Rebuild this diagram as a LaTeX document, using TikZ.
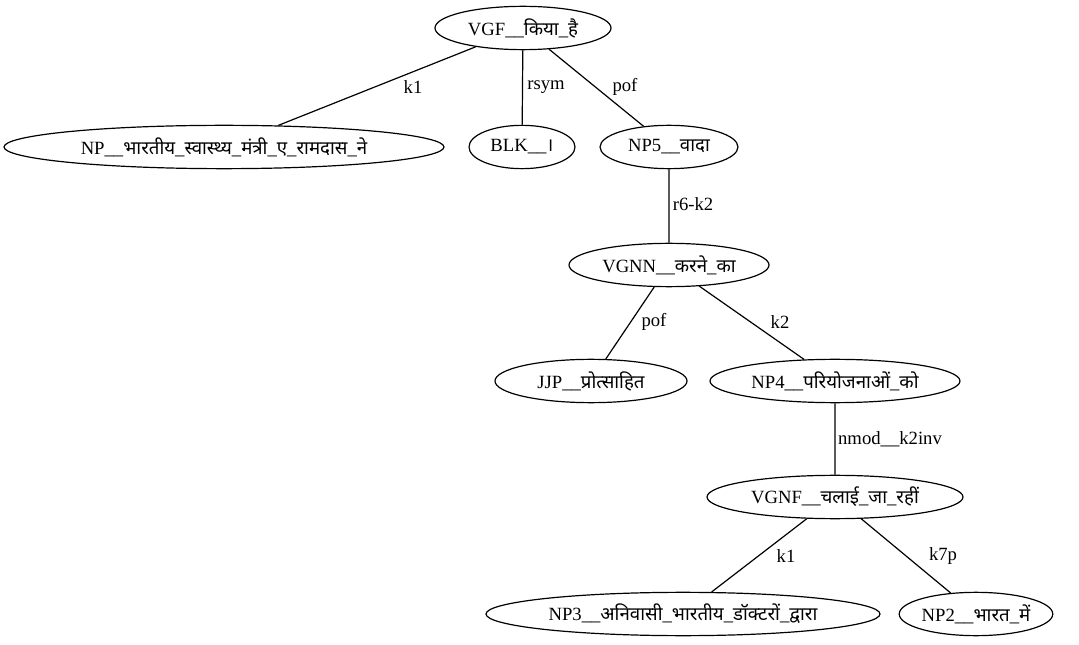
\documentclass[tikz,border=0pt]{standalone}
\usepackage{fontspec}
\setmainfont{Liberation Serif}
\newfontfamily\deva[Script=Devanagari]{Noto Sans}
\usetikzlibrary{shapes.geometric}
\newcommand{\hi}[1]{{\deva #1}}
\begin{document}
\begin{tikzpicture}[x=.75pt,y=-.75pt,font=\fontsize{14}{16}\selectfont,line join=round,line width=.9pt,
	nut/.style={draw,ellipse,inner sep=0pt,minimum height=32.5pt}]
	\useasboundingbox (0,0) rectangle (1079,645);
	% Các nút
	\node[nut,minimum width=132pt] (vgf) at (523,28) {VGF\_\_\hi{किया}\_\hi{है}};
	\node[nut,minimum width=330pt] (np) at (224,147) {NP\_\_\hi{भारतीय}\_\hi{स्वास्थ्य}\_\hi{मंत्री}\_\hi{ए}\_\hi{रामदास}\_\hi{ने}};
	\node[nut,minimum width=79.5pt] (blk) at (522,147) {BLK\_\_\hi{।}};
	\node[nut,minimum width=103.5pt] (npv) at (669,147) {NP5\_\_\hi{वादा}};
	\node[nut,minimum width=150pt] (vgnn) at (669,265) {VGNN\_\_\hi{करने}\_\hi{का}};
	\node[nut,minimum width=144pt] (jjp) at (591,381) {JJP\_\_\hi{प्रोत्साहित}};
	\node[nut,minimum width=187.5pt] (npiv) at (835,381) {NP4\_\_\hi{परियोजनाओं}\_\hi{को}};
	\node[nut,minimum width=192pt] (vgnf) at (835,497) {VGNF\_\_\hi{चलाई}\_\hi{जा}\_\hi{रहीं}};
	\node[nut,minimum width=295.5pt] (npiii) at (683,614) {NP3\_\_\hi{अनिवासी}\_\hi{भारतीय}\_\hi{डॉक्टरों}\_\hi{द्वारा}};
	\node[nut,minimum width=108pt] (npii) at (976,614) {NP2\_\_\hi{भारत}\_\hi{में}};
	% Các cạnh
	\draw (vgf)--(np) (vgf)--(blk) (vgf)--(npv)
	(npv)--(vgnn) (vgnn)--(jjp) (vgnn)--(npiv)
	(npiv)--(vgnf) (vgnf)--(npiii) (vgnf)--(npii);
	\path (413,87) node{k1} (546,87) node{rsym} (625,87) node{pof}
	(693,204) node{r6-k2}
	(654,322) node{pof} (780,322) node{k2}
	(890,439) node{nmod\_\_k2inv}
	(786,556) node{k1} (943,556) node{k7p};
\end{tikzpicture}
\end{document}
